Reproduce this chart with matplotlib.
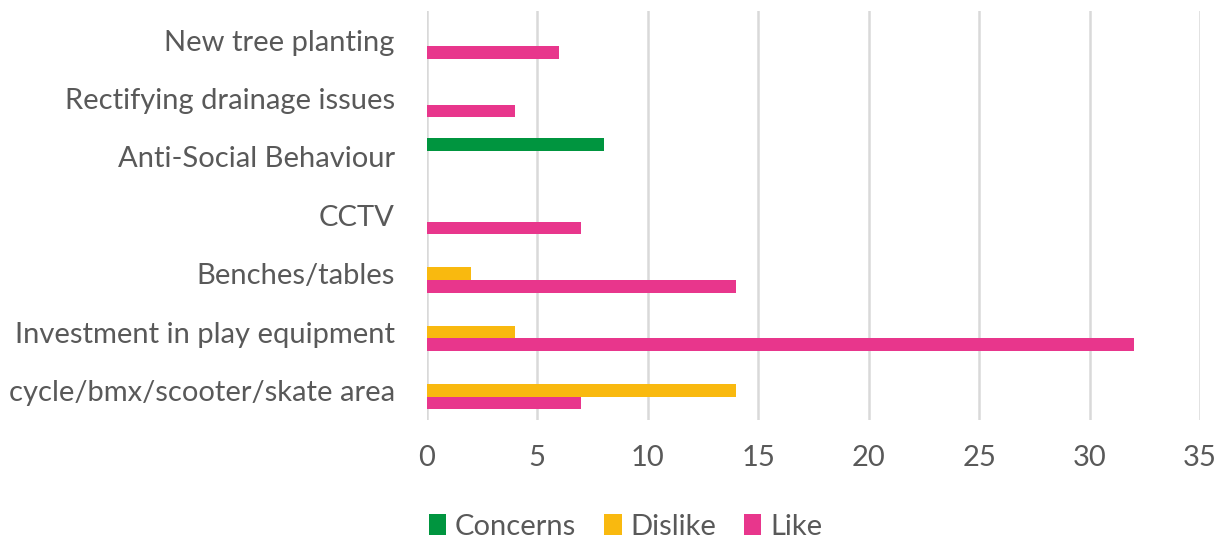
import matplotlib.pyplot as plt
import numpy as np

plt.rcParams['font.family'] = ['Lato', 'DejaVu Sans']

categories = ["cycle/bmx/scooter/skate area", "Investment in play equipment",
              "Benches/tables", "CCTV", "Anti-Social Behaviour",
              "Rectifying drainage issues", "New tree planting"]
concerns = [0, 0, 0, 0, 8, 0, 0]
dislike = [14, 4, 2, 0, 0, 0, 0]
like = [7, 32, 14, 7, 0, 4, 6]

fig = plt.figure(figsize=(12.16, 5.41), dpi=100)
ax = fig.add_axes([0.351, 0.224, 0.636, 0.756])

y = np.arange(len(categories))
h = 0.214
ax.barh(y + h, concerns, height=h, color="#00953F", label="Concerns", zorder=3)
ax.barh(y, dislike, height=h, color="#F9B90F", label="Dislike", zorder=3)
ax.barh(y - h, like, height=h, color="#E8368C", label="Like", zorder=3)

ax.set_xlim(0, 35)
ax.set_ylim(-0.5, len(categories) - 0.5)
ax.set_xticks(range(0, 36, 5))
ax.set_yticks(y)
ax.set_yticklabels(categories)
ax.xaxis.grid(True, color="#D9D9D9", linewidth=1.8, zorder=0)
for s in ax.spines.values():
    s.set_visible(False)
ax.tick_params(axis="both", length=0, labelsize=21, labelcolor="#595959")
ax.tick_params(axis="x", pad=18)
ax.tick_params(axis="y", pad=23)

ax.legend(loc="center", bbox_to_anchor=(0.257, -0.262), ncol=3, frameon=False,
          fontsize=21, labelcolor="#595959", handlelength=0.6, handleheight=0.72,
          handletextpad=0.3, columnspacing=0.95)

fig.savefig("out.png")
